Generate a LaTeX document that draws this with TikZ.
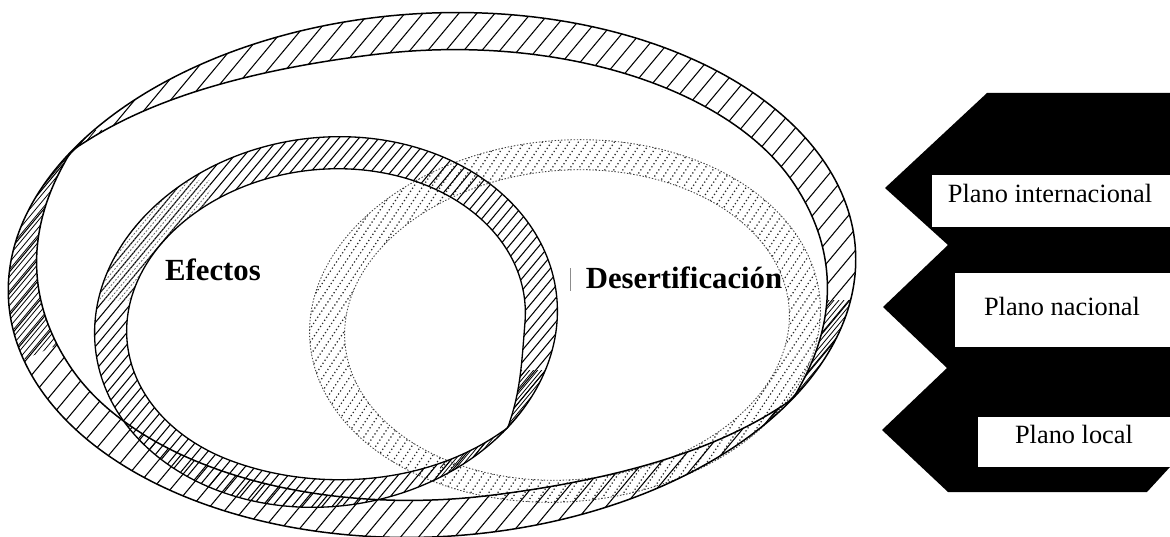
\documentclass[tikz,border=0pt]{standalone}
\usepackage{fontspec}
\setmainfont{Liberation Serif}
\begin{document}
\begin{tikzpicture}[x=0.02cm,y=-0.02cm,
  declare function={
    fw(\t)=1+0.03*sin(2*\t);
    bigw(\t)=37*sin(min(90,1.7*min(mod(\t+569,180),180-mod(\t+569,180))));
    efw(\t)=ifthenelse(mod(\t+216,360)-180>=0,
        32*sin(min(90,2.5*(mod(\t+216,360)-180))),
        32*sin(min(90,1.1*(180-mod(\t+216,360)))));
  },
  ringedge/.style={line width=0.85pt,black},
  hatchline/.style={line width=0.6pt,black},
  finehatch/.style={line width=0.45pt,black},
  dotline/.style={line width=0.7pt,black!85,dash pattern=on 0.7pt off 1.4pt},
  dotedge/.style={line width=0.5pt,black!75,dash pattern=on 0.8pt off 1.0pt},
  lbl/.style={font=\fontsize{15}{18}\selectfont,anchor=base,inner sep=0pt},
  title/.style={font=\fontsize{17.5}{21}\selectfont\bfseries,anchor=base,inner sep=0pt}]
\useasboundingbox (0,0) rectangle (1170,537);

% ---------- ring outlines (parametric, twisted ribbons) ----------
\def\bigO{plot[smooth cycle,domain=0:358,samples=180,variable=\t]
  ({432+423*cos(\t)*fw(\t)},{275-262*sin(\t)*fw(\t)})}
\def\bigI{plot[smooth cycle,domain=0:358,samples=180,variable=\t]
  ({432+(423-bigw(\t))*cos(\t)*fw(\t)},{275-(262-bigw(\t))*sin(\t)*fw(\t)})}
\def\efO{plot[smooth cycle,domain=0:358,samples=180,variable=\t]
  ({326+231*cos(\t)*fw(\t)},{322-185*sin(\t)*fw(\t)})}
\def\efI{plot[smooth cycle,domain=0:358,samples=180,variable=\t]
  ({326+(231-efw(\t))*cos(\t)*fw(\t)},{322-(185-efw(\t))*sin(\t)*fw(\t)})}
\def\deO{plot[smooth cycle,domain=0:358,samples=180,variable=\t]
  ({565+255*cos(\t)*fw(\t)},{321-181*sin(\t)*fw(\t)})}
\def\deI{plot[smooth cycle,domain=0:358,samples=180,variable=\t]
  ({567+222*cos(\t)*fw(\t)},{325-155*sin(\t)*fw(\t)})}

% ---------- Desertificacion ring (dotted hatch) ----------
\begin{scope}[even odd rule]
  \clip \deO \deI;
  \foreach \c in {40,49,...,800} \draw[dotline] (\c,545) -- ++(363,-545);
\end{scope}
\draw[dotedge] \deO;
\draw[dotedge] \deI;

% ---------- Efectos ring ----------
\begin{scope}[even odd rule]
  \clip \efO \efI;
  \foreach \c in {-250,-240,...,530} \draw[hatchline] (\c,545) -- ++(454,-545);
  \begin{scope}[nonzero rule]
    \clip (440,370) rectangle (545,480);
    \foreach \c in {320,324,...,480} \draw[finehatch] (\c,545) -- ++(454,-545);
  \end{scope}
  \begin{scope}[nonzero rule]
    \clip (100,180) rectangle (210,300);
    \foreach \c in {-190,-185,...,10} \draw[finehatch,black!60,dash pattern=on 1pt off 1pt] (\c,545) -- ++(454,-545);
  \end{scope}
\end{scope}
\draw[ringedge,line width=0.75pt] \efO;
\draw[ringedge,line width=0.75pt] \efI;

% ---------- big outer ring ----------
\begin{scope}[even odd rule]
  \clip \bigO \bigI;
  \foreach \c in {-470,-452,...,880} \draw[hatchline] (\c,545) -- ++(454,-545);
  \begin{scope}[nonzero rule]
    \clip (0,130) -- (115,130) -- (115,320) -- (0,370) -- cycle;
    \foreach \c in {-370,-364,...,40} \draw[finehatch] (\c,545) -- ++(454,-545);
  \end{scope}
  \begin{scope}[nonzero rule]
    \clip (770,300) rectangle (860,440);
    \foreach \c in {560,565,...,800} \draw[finehatch] (\c,545) -- ++(454,-545);
  \end{scope}
\end{scope}
\draw[ringedge] \bigO;
\draw[ringedge] \bigI;

% ---------- ring labels ----------
\node[title] (efectos) at (213,280) {Efectos};
\node[title] (desert) at (684,288) {Desertificación};
\draw[black!45,line width=0.4pt] (570,268) -- (570,291);

% ---------- right-hand levels ----------
\fill[black] (987,93) -- (1170,93) -- (1170,467) -- (1147,492) -- (948,492) -- (882,430)
  -- (947,368) -- (883,307) -- (948,245) -- (885,188) -- cycle;
\fill[white] (932,175) rectangle (1170,227);
\fill[white] (955,273) rectangle (1170,347);
\fill[white] (978,417) rectangle (1170,467);
\node[lbl] (pint) at (1050,202) {Plano internacional};
\node[lbl] (pnac) at (1062,315) {Plano nacional};
\node[lbl] (ploc) at (1074,443) {Plano local};
\end{tikzpicture}
\end{document}
